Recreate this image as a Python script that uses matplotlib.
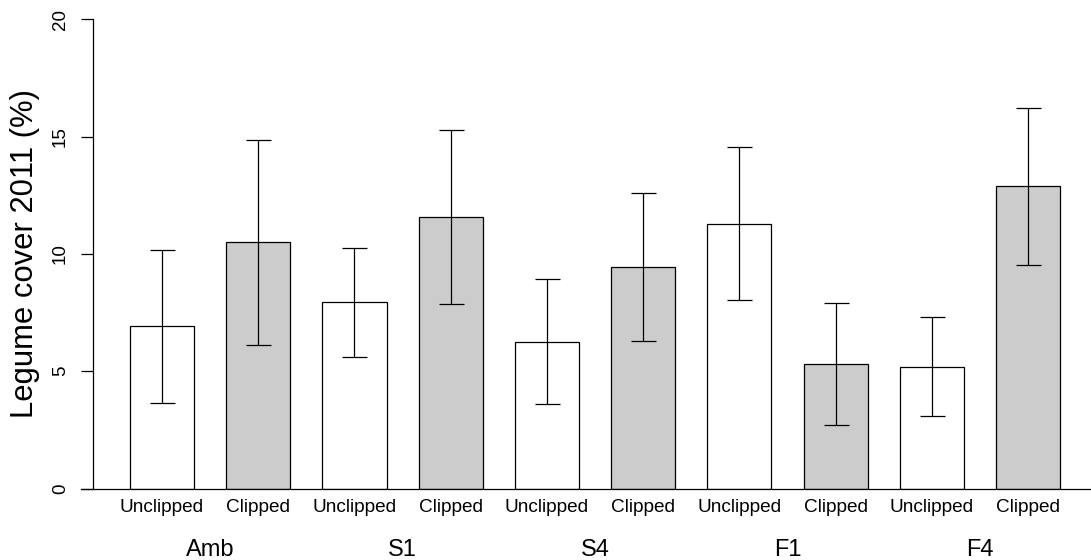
import numpy as np
import matplotlib
matplotlib.use('Agg')
import matplotlib.pyplot as plt

plt.rcParams['font.family'] = ['Liberation Sans', 'DejaVu Sans']

groups = ['Amb', 'S1', 'S4', 'F1', 'F4']
treatments = ['Unclipped', 'Clipped']
# bar heights and half-length of the error bars
means = [6.91, 10.49, 7.93, 11.56, 6.26, 9.43, 11.29, 5.30, 5.20, 12.88]
ses = [3.27, 4.36, 2.33, 3.71, 2.67, 3.16, 3.25, 2.59, 2.12, 3.35]
yticks = [0, 5, 10, 15, 20]

fig = plt.figure(figsize=(10.91, 5.6), dpi=100)
ax = fig.add_axes([92.5 / 1091, 71.5 / 560, 1 - 92.5 / 1091, 469.2 / 560])

# R barplot style: width 1, space 0.5
x = 1 + 1.5 * np.arange(len(means))
colors = ['white', '#cccccc'] * len(groups)
ax.bar(x, means, width=1, color=colors, edgecolor='black', linewidth=0.9, zorder=2)
ax.errorbar(x, means, yerr=ses, fmt='none', ecolor='black', elinewidth=0.9,
            capsize=9, capthick=0.9, zorder=3)

ax.set_xlim(-0.083, 15.48)
ax.set_ylim(0, 20)

# horizontal base line, running a bit left of the y axis
ax.plot([-0.26, 15.48], [0, 0], color='black', lw=0.9, clip_on=False, zorder=4)

for s in ['top', 'right', 'bottom']:
    ax.spines[s].set_visible(False)
ax.spines['left'].set_bounds(0, 20)
ax.spines['left'].set_linewidth(0.9)

ax.set_yticks(yticks)
ax.set_yticklabels([str(t) for t in yticks])
ax.tick_params(axis='y', length=8.3, width=0.9, labelsize=13.5, pad=11.5)
for lab in ax.get_yticklabels():
    lab.set_rotation(90)
    lab.set_rotation_mode('anchor')
    lab.set_ha('center')
    lab.set_va('baseline')

ax.set_xticks(x)
ax.set_xticklabels(treatments * len(groups))
ax.tick_params(axis='x', length=0, labelsize=13.7, pad=7.5)

# group names under each pair
centers = (x[0::2] + x[1::2]) / 2
for c, g in zip(centers, groups):
    ax.text(c, -0.1439, g, transform=ax.get_xaxis_transform(), ha='center',
            va='baseline', fontsize=17)

fig.text(33 / 1091, 1 - 254 / 560, 'Legume cover 2011 (%)', rotation=90,
         rotation_mode='anchor', ha='center', va='baseline', fontsize=22.3)

fig.savefig('out.png', dpi=100)
